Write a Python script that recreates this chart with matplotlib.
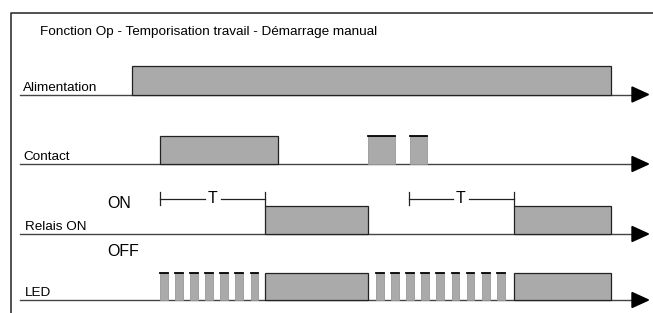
import matplotlib
matplotlib.use("Agg")
from matplotlib import pyplot as plt
from matplotlib.patches import Rectangle, Polygon

plt.rcParams['font.family'] = ['Liberation Sans', 'DejaVu Sans']

# time axis in px-like units, y positions of each trace
title = "Fonction Op - Temporisation travail - Démarrage manual"
signals = ["Alimentation", "Contact", "Relais ON", "LED"]
baselines = [94.5, 164, 234, 300]
tops = [66, 136, 206, 273]

# "on" intervals (start, end)
alim_on = [(132, 610.5)]
contact_on = [(160, 278), (367.5, 395), (409.5, 426.5)]
relais_on = [(265, 367.5), (513.5, 610.5)]
led_solid = [(265, 367.5), (513.5, 610.5)]
led_pulse_start = [160, 175, 190, 205, 220, 235, 250.5,
                   376, 391, 406, 421, 436, 451.5, 466.5, 482, 497]
led_pulse_width = 7.5
timers = [(160, 265), (408.5, 513.5)]

fill = "#aaaaaa"
line = "#222222"

fig = plt.figure(figsize=(6.53, 3.13), dpi=100)
ax = fig.add_axes([0, 0, 1, 1])
ax.set_xlim(0, 653)
ax.set_ylim(313, 0)
ax.axis("off")

# frame
ax.plot([10.5, 10.5, 653], [313, 12.5, 12.5], color="#333333", lw=1.2)
ax.text(40, 32, title, fontsize=9.7, va="center", ha="left")


def bar(x0, x1, y0, y1, sides=True):
    ax.add_patch(Rectangle((x0, y1), x1 - x0, y0 - y1, facecolor=fill,
                           edgecolor=line if sides else "#999999", lw=0.9 if sides else 0.6))
    if not sides:
        ax.plot([x0, x1], [y1, y1], color="black", lw=1.3)


for lab, yb, yt, runs in zip(signals, baselines, tops,
                             [alim_on, contact_on, relais_on, led_solid]):
    ax.plot([20, 636], [yb, yb], color="#444444", lw=1.0, zorder=1)
    ax.add_patch(Polygon([[632, yb - 7.5], [648.5, yb], [632, yb + 7.5]],
                         closed=True, color="black"))
    for i, (a, b) in enumerate(runs):
        small = lab == "Contact" and i > 0
        bar(a, b, yb, yt, sides=not small)
    ax.text(23 if lab in ("Alimentation", "Contact") else 25, yb - 6.5, lab,
            fontsize=9.7, va="center", ha="left")

for s in led_pulse_start:
    bar(s, s + led_pulse_width, baselines[3], tops[3], sides=False)

# ON / OFF
ax.text(107, 204, "ON", fontsize=11.5, va="center", ha="left")
ax.text(107, 251, "OFF", fontsize=11.5, va="center", ha="left")

# timer markers
for a, b in timers:
    ym = 198.5
    mid = (a + b) / 2
    ax.plot([a, a], [192, 205], color=line, lw=0.9)
    ax.plot([b, b], [192, 206], color=line, lw=0.9)
    ax.plot([a, mid - 8], [ym, ym], color=line, lw=0.9)
    ax.plot([mid + 8, b], [ym, ym], color=line, lw=0.9)
    ax.text(mid, ym, "T", fontsize=11.5, va="center", ha="center")

fig.savefig("out.png", dpi=100)
